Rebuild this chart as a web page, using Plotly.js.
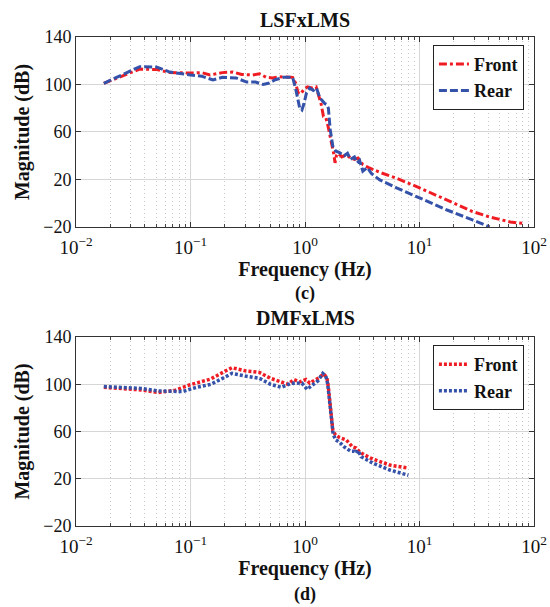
<!DOCTYPE html>
<html>
<head>
<meta charset="utf-8">
<script src="https://cdn.plot.ly/plotly-3.0.1.min.js"></script>
<style>html,body{margin:0;padding:0;background:#fff;}#chart{width:550px;height:607px;}</style>
</head>
<body>
<div id="chart"></div>
<script>
// ---- data ----
var lsfFrontFreq = [0.0175, 0.025, 0.036, 0.051, 0.066, 0.1, 0.125, 0.148, 0.19, 0.235, 0.28, 0.35, 0.4, 0.46, 0.52, 0.6, 0.68, 0.78, 0.83, 0.87, 0.92, 0.98, 1.05, 1.15, 1.25, 1.32, 1.38, 1.45, 1.52, 1.58, 1.65, 1.72, 1.78, 1.83, 1.88, 1.95, 2.1, 2.3, 2.5, 2.7, 2.9, 3.2, 3.6, 4.5, 6.3, 10, 17.4, 29, 41, 62, 80];
var lsfFrontDb   = [101, 107, 113, 112.6, 110, 109.7, 110, 108, 110, 110.5, 108.5, 108, 109, 106, 105.5, 106.5, 106, 106, 101, 93, 92, 96, 98, 97, 98, 90, 84, 73, 72, 66, 58, 48, 42, 34, 40, 42, 39, 41, 38, 37, 38, 32.5, 30, 26, 21, 13, 2.7, -7, -11.6, -15.8, -17];

var lsfRearFreq  = [0.0175, 0.025, 0.036, 0.051, 0.066, 0.1, 0.125, 0.157, 0.19, 0.25, 0.31, 0.37, 0.43, 0.48, 0.55, 0.65, 0.78, 0.83, 0.87, 0.9, 0.94, 0.98, 1.03, 1.1, 1.18, 1.26, 1.35, 1.42, 1.49, 1.55, 1.6, 1.66, 1.75, 1.85, 2.0, 2.2, 2.35, 2.5, 2.7, 2.85, 3.0, 3.2, 3.5, 3.8, 4.5, 6.3, 10, 17.4, 29, 41];
var lsfRearDb    = [101, 108, 115, 114.6, 110.5, 108, 107, 103.8, 106, 105.5, 102, 102, 100, 101, 104, 106, 106, 96, 85, 80, 78.5, 84, 93, 97, 95, 97, 88.6, 86, 84, 83, 80, 62, 48, 44, 42.6, 40, 42, 37, 39, 34, 36, 27, 30, 25, 19.6, 13, 4.4, -5.7, -14, -20];

var dmfFrontFreq = [0.0175, 0.037, 0.052, 0.074, 0.098, 0.15, 0.2, 0.23, 0.3, 0.4, 0.5, 0.62, 0.71, 0.8, 0.9, 0.96, 1.02, 1.1, 1.2, 1.35, 1.45, 1.55, 1.6, 1.65, 1.7, 1.75, 1.85, 2.0, 2.3, 2.6, 2.8, 3.0, 3.7, 5.5, 8];
var dmfFrontDb   = [97.4, 95.2, 93, 95, 99.4, 104.4, 111, 114, 111.4, 110, 105, 102, 100, 104, 102, 103, 104, 101, 103, 106, 108.7, 106, 97.7, 84, 70, 61, 57, 55, 52.8, 47, 46, 42.6, 37.6, 31.6, 29];

var dmfRearFreq  = [0.0175, 0.037, 0.052, 0.085, 0.113, 0.15, 0.2, 0.23, 0.3, 0.4, 0.5, 0.62, 0.76, 0.94, 1.04, 1.2, 1.3, 1.43, 1.52, 1.58, 1.64, 1.7, 1.76, 1.85, 2.0, 2.2, 2.5, 2.7, 2.8, 2.9, 3.1, 3.9, 5.5, 8];
var dmfRearDb    = [98, 96.5, 94.3, 93.8, 97.4, 99.9, 106, 109.2, 107, 105, 100, 97.4, 100.8, 101, 95.7, 100, 103, 109.2, 107, 100, 85, 68, 58, 53, 51, 47, 43.3, 43.3, 41.8, 44, 38.6, 33.3, 27.4, 23];

var xTickVals  = [0.01, 0.1, 1, 10, 100];
var xTickText  = ['10<sup>−2</sup>', '10<sup>−1</sup>', '10<sup>0</sup>', '10<sup>1</sup>', '10<sup>2</sup>'];
var yTickVals  = [-20, 20, 60, 100, 140];
var yTickText  = ['−20', '20', '60', '100', '140'];
var seriesNames = ['Front', 'Rear'];
var panelTitles = ['LSFxLMS', 'DMFxLMS'];
var panelLabels = ['(c)', '(d)'];

// minor grid positions (2..9 in each decade)
var minorVals = [];
[0.01, 0.1, 1, 10].forEach(function (d) { for (var k = 2; k <= 9; k++) minorVals.push(+(d * k).toPrecision(3)); });

var RED = 'rgb(240,28,36)';
var BLUE = 'rgb(52,82,170)';
var FONT = 'Liberation Serif, serif';

var traces = [
  {x: lsfFrontFreq, y: lsfFrontDb, name: seriesNames[0], type: 'scatter', mode: 'lines', xaxis: 'x', yaxis: 'y', legend: 'legend',
   line: {color: RED, width: 3, dash: '8px,3px,3px,3px'}},
  {x: lsfRearFreq, y: lsfRearDb, name: seriesNames[1], type: 'scatter', mode: 'lines', xaxis: 'x', yaxis: 'y', legend: 'legend',
   line: {color: BLUE, width: 3, dash: '8px,3px'}},
  {x: dmfFrontFreq, y: dmfFrontDb, name: seriesNames[0], type: 'scatter', mode: 'lines', xaxis: 'x2', yaxis: 'y2', legend: 'legend2',
   line: {color: RED, width: 3.5, dash: '3px,2px'}},
  {x: dmfRearFreq, y: dmfRearDb, name: seriesNames[1], type: 'scatter', mode: 'lines', xaxis: 'x2', yaxis: 'y2', legend: 'legend2',
   line: {color: BLUE, width: 3.5, dash: '3px,2px'}}
];

function xAxis(anchor) {
  return {
    type: 'log', range: [-2, 2], anchor: anchor,
    tickmode: 'array', tickvals: xTickVals, ticktext: xTickText,
    ticks: 'inside', ticklen: 5, tickcolor: '#333',
    showline: true, linecolor: '#333', linewidth: 1, mirror: 'ticks',
    showgrid: true, gridcolor: '#d6d6d6', gridwidth: 1,
    zeroline: false,
    tickfont: {family: FONT, size: 19, color: '#111'},
    ticklabelstandoff: 3,
    minor: {tickmode: 'array', tickvals: minorVals, showgrid: true, gridcolor: '#c8c8c8', griddash: '1px,3px', gridwidth: 1,
            ticks: 'inside', ticklen: 3, tickcolor: '#444'},
    title: {text: 'Frequency (Hz)', font: {family: FONT, size: 20, color: '#111', weight: 'bold'}, standoff: 1},
    automargin: false
  };
}
function yAxis(anchor, domain) {
  return {
    range: [-20, 140], anchor: anchor, domain: domain,
    tickmode: 'array', tickvals: yTickVals, ticktext: yTickText,
    ticks: 'inside', ticklen: 5, tickcolor: '#333',
    showline: true, linecolor: '#333', linewidth: 1, mirror: 'ticks',
    showgrid: true, gridcolor: '#d6d6d6', gridwidth: 1,
    zeroline: false,
    tickfont: {family: FONT, size: 18, color: '#111'},
    title: {text: 'Magnitude (dB)', font: {family: FONT, size: 20, color: '#111', weight: 'bold'}, standoff: 8},
    automargin: false
  };
}

var legendStyle = function (y) {
  return {x: 0.978, xanchor: 'right', y: y, yanchor: 'top', bgcolor: '#fff', bordercolor: '#222', borderwidth: 1,
          font: {family: FONT, size: 18, color: '#111', weight: 'bold'}, tracegroupgap: 0, itemwidth: 30};
};

var layout = {
  width: 550, height: 607,
  margin: {l: 76, r: 16, t: 37, b: 81},
  paper_bgcolor: '#fff', plot_bgcolor: '#fff',
  showlegend: true,
  xaxis: xAxis('y'),
  yaxis: yAxis('x', [0.6115, 1]),
  xaxis2: xAxis('y2'),
  yaxis2: yAxis('x2', [0, 0.3865]),
  legend: legendStyle(0.984),
  legend2: legendStyle(0.370),
  annotations: [
    {text: '<b>' + panelTitles[0] + '</b>', xref: 'paper', yref: 'paper', x: 0.5, y: 1.0348, yanchor: 'middle', showarrow: false, font: {family: FONT, size: 20, color: '#111'}},
    {text: '<b>' + panelTitles[1] + '</b>', xref: 'paper', yref: 'paper', x: 0.5, y: 0.4254, yanchor: 'middle', showarrow: false, font: {family: FONT, size: 20, color: '#111'}},
    {text: '<b>' + panelLabels[0] + '</b>', xref: 'paper', yref: 'paper', x: 0.5, y: 0.4745, yanchor: 'middle', showarrow: false, font: {family: FONT, size: 18, color: '#111'}},
    {text: '<b>' + panelLabels[1] + '</b>', xref: 'paper', yref: 'paper', x: 0.5, y: -0.141, yanchor: 'middle', showarrow: false, font: {family: FONT, size: 18, color: '#111'}}
  ]
};

Plotly.newPlot('chart', traces, layout, {displayModeBar: false, staticPlot: true});
</script>
</body>
</html>
